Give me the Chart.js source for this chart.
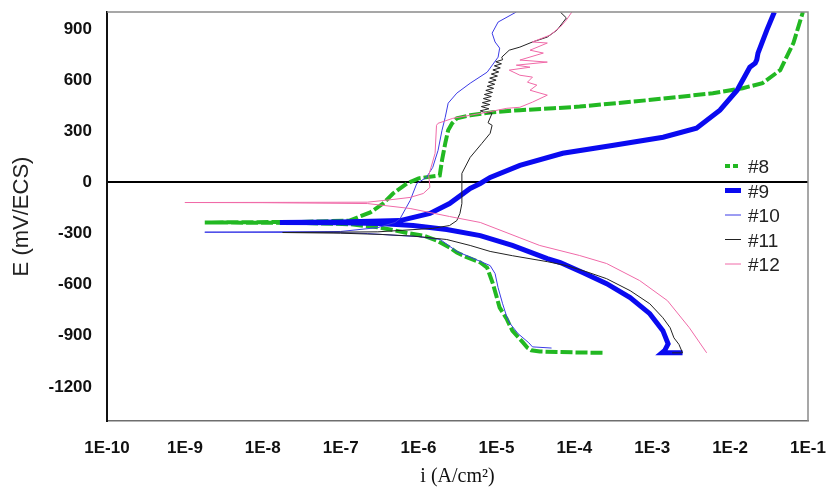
<!DOCTYPE html>
<html lang="en">
<head>
<meta charset="UTF-8">
<title>Polarization curves</title>
<script src="https://cdn.jsdelivr.net/npm/chart.js"></script>
<style>
  body { margin: 0; background: #fff; }
  #wrap { width: 829px; height: 487px; }
</style>
</head>
<body>
<div id="wrap"><canvas id="polChart" width="829" height="487"></canvas></div>
<script>
// tick values
const xTicks = [1e-10, 1e-9, 1e-8, 1e-7, 1e-6, 1e-5, 1e-4, 1e-3, 1e-2, 1e-1];
const yTicks = [-1200, -900, -600, -300, 0, 300, 600, 900];

// #8  (i in A/cm2, E in mV/ECS)
const i8 = [2.3e-4, 1.2e-4, 6e-5, 3.6e-5, 2.8e-5, 2.5e-5, 2.2e-5, 1.6e-5, 1.35e-5, 1.1e-5, 9e-6, 7.6e-6, 6.2e-6, 4e-6, 3.1e-6, 2.5e-6, 1.7e-6, 1.15e-6, 7.8e-7, 3.2e-7, 1.3e-7, 3e-8, 1.8e-9,
  3e-8, 1.3e-7, 2.4e-7, 3.5e-7, 4.7e-7, 7.1e-7, 1.0e-6, 1.87e-6, 2.0e-6, 2.2e-6, 2.4e-6, 2.7e-6, 3.1e-6, 4.6e-6, 9e-6, 2e-5, 5.4e-5, 1.17e-4, 8.5e-4, 6e-3, 0.0145, 0.026, 0.044, 0.065, 0.086];
const e8 = [-1000, -998, -995, -992, -985, -970, -940, -870, -800, -735, -594, -500, -470, -435, -412, -382, -341, -312, -300, -265, -245, -238, -235,
  -232, -224, -176, -124, -65, -6, 24, 41, 129, 229, 306, 347, 376, 394, 412, 424, 435, 445, 482, 523, 553, 582, 659, 818, 1000];

// #9
const i9 = [2.45e-3, 1.33e-3, 1.45e-3, 1.6e-3, 1.37e-3, 9.3e-4, 5.2e-4, 2.6e-4, 1.28e-4, 6.6e-5, 4.5e-5, 1.6e-5, 6.2e-6, 2.3e-6, 8.5e-7, 3.2e-7, 1e-7, 1.66e-8,
  1e-7, 5.8e-7, 1.4e-6, 2.5e-6, 4.6e-6, 6.2e-6, 8.3e-6, 2e-5, 7.1e-5, 3.2e-4, 1.38e-3, 3.7e-3, 7.4e-3, 0.0123, 0.0179, 0.021, 0.022, 0.0228, 0.0296, 0.037];
const e9 = [-1000, -1000, -985, -947, -870, -770, -676, -594, -529, -470, -447, -370, -312, -276, -253, -241, -237, -235,
  -232, -224, -182, -124, -35, -6, 29, 100, 171, 218, 265, 318, 424, 541, 676, 700, 720, 759, 894, 1000];

// #10
const i10 = [5.1e-5, 2.9e-5, 2.6e-5, 1.9e-5, 1.5e-5, 1.36e-5, 1.2e-5, 1.05e-5, 9.6e-6, 8.3e-6, 6.7e-6, 3.1e-6, 1.9e-6, 1.0e-6, 5.8e-7, 2.2e-7, 8e-8, 1.8e-9,
  1e-7, 3e-7, 5e-7, 5.8e-7, 7.8e-7, 9.5e-7, 1.26e-6, 1.52e-6, 1.78e-6, 2.0e-6, 2.2e-6, 2.4e-6, 3.1e-6, 4.6e-6, 7.6e-6, 1.05e-5, 1.1e-5, 9.6e-6, 8.8e-6, 1.05e-5, 1.8e-5];
const e10 = [-972, -965, -941, -888, -829, -790, -712, -618, -535, -488, -470, -405, -335, -318, -312, -300, -294, -292,
  -288, -265, -235, -212, -106, -6, 29, 88, 188, 306, 382, 465, 524, 582, 647, 735, 788, 824, 876, 941, 1000];

// #11
const i11 = [1.8e-3, 2.45e-3, 2.2e-3, 1.9e-3, 1.7e-3, 1.37e-3, 9.3e-4, 5.2e-4, 2.6e-4, 1.45e-4, 7.9e-5, 4.5e-5, 1.6e-5, 8.3e-6, 4.6e-6, 2.3e-6, 8.5e-7, 3.2e-7, 1e-7, 1.8e-8,
  3e-7, 1.5e-6, 2.5e-6, 3.1e-6, 3.4e-6, 3.6e-6, 3.6e-6, 4.6e-6, 6.5e-6, 8.3e-6, 8.8e-6, 7.8e-6, 8.8e-6,
  7.1e-6, 6.2e-6, 8.0e-6, 6.4e-6, 8.2e-6, 6.6e-6, 8.4e-6, 6.8e-6, 8.6e-6, 7.0e-6, 8.9e-6, 7.3e-6, 9.2e-6, 7.6e-6,
  9.5e-6, 7.9e-6, 9.9e-6, 8.2e-6, 1.03e-5, 8.6e-6, 1.07e-5, 9.0e-6, 1.12e-5, 9.4e-6, 1.16e-5, 9.8e-6, 1.2e-5, 1.17e-5,
  1.46e-5, 2e-5, 2.9e-5, 4.5e-5, 6e-5, 7.9e-5, 6.6e-5];
const e11 = [-1000, -1000, -950, -912, -853, -794, -712, -635, -565, -525, -488, -465, -430, -405, -370, -335, -315, -305, -298, -294,
  -290, -270, -253, -224, -182, -124, 53, 147, 229, 288, 335, 350, 406,
  410, 420, 432, 445, 457, 468, 480, 492, 504, 516, 528, 540, 552, 564,
  576, 588, 600, 612, 624, 636, 648, 660, 672, 684, 696, 708, 720, 735,
  776, 794, 824, 853, 894, 965, 1000];

// #12
const i12 = [5.0e-3, 3.0e-3, 1.57e-3, 6.9e-4, 2.6e-4, 1.17e-4, 3.6e-5, 2e-5, 6.2e-6, 2.5e-6, 7.8e-7, 2.2e-7, 1e-8, 1e-9,
  3e-8, 2.2e-7, 4.7e-7, 7.8e-7, 1.15e-6, 1.4e-6, 1.35e-6, 1.63e-6, 1.7e-6, 1.78e-6, 2.75e-6, 4.6e-6, 7.6e-6, 1.36e-5, 2e-5,
  2.9e-5, 4.5e-5, 2.7e-5, 3.3e-5, 2.5e-5, 2.9e-5, 2e-5, 1.46e-5, 2.7e-5, 1.8e-5, 4.5e-5, 2e-5, 4e-5, 2.7e-5, 4.5e-5, 2.9e-5, 4.9e-5, 6.6e-5, 7.9e-5, 9.3e-5];
const e12 = [-1000, -853, -694, -576, -476, -429, -370, -325, -235, -200, -153, -124, -119, -118,
  -117, -116, -100, -88, -65, -29, 41, 171, 335, 347, 376, 394, 412, 435, 441,
  471, 512, 541, 571, 588, 618, 629, 659, 676, 688, 706, 718, 759, 776, 818, 824, 865, 912, 953, 1000];

function pts(xs, ys) {
  return xs.map((x, k) => ({ x: x, y: ys[k] }));
}

// grey frame on top/right, like the original plot box
const frame = {
  id: 'frame',
  afterDatasetsDraw(chart) {
    const a = chart.chartArea, ctx = chart.ctx;
    ctx.save();
    ctx.strokeStyle = '#8a8a8a';
    ctx.lineWidth = 1.5;
    ctx.beginPath();
    ctx.moveTo(a.left, a.top);
    ctx.lineTo(a.right, a.top);
    ctx.lineTo(a.right, a.bottom);
    ctx.stroke();
    ctx.restore();
  }
};

// legend drawn inside the plot area
const insideLegend = {
  id: 'insideLegend',
  afterDraw(chart) {
    const ctx = chart.ctx;
    ctx.save();
    ctx.font = '19px "Liberation Sans", Arial, sans-serif';
    ctx.textBaseline = 'middle';
    chart.data.datasets.forEach((ds, k) => {
      const y = 166 + k * 24.5;
      ctx.strokeStyle = ds.borderColor;
      ctx.lineWidth = ds.borderWidth;
      ctx.setLineDash(ds.borderDash ? [5, 3] : []);
      ctx.beginPath();
      ctx.moveTo(725, y);
      ctx.lineTo(741, y);
      ctx.stroke();
      ctx.setLineDash([]);
      ctx.fillStyle = '#222';
      ctx.fillText(ds.label, 748, y + 2);
    });
    ctx.restore();
  }
};

new Chart(document.getElementById('polChart'), {
  type: 'scatter',
  data: {
    datasets: [
      { label: '#8', data: pts(i8, e8), borderColor: '#22b822', borderWidth: 4, borderDash: [12, 3], order: 5 },
      { label: '#9', data: pts(i9, e9), borderColor: '#0a0af0', borderWidth: 5, order: 4 },
      { label: '#10', data: pts(i10, e10), borderColor: '#3b3be6', borderWidth: 1, order: 3 },
      { label: '#11', data: pts(i11, e11), borderColor: '#222222', borderWidth: 1, order: 2 },
      { label: '#12', data: pts(i12, e12), borderColor: '#f06aa8', borderWidth: 1, order: 1 }
    ].map(d => Object.assign(d, { showLine: true, pointRadius: 0, fill: false, tension: 0 }))
  },
  options: {
    responsive: false,
    animation: false,
    devicePixelRatio: 1,
    layout: { padding: { left: 0, top: 12, right: 21, bottom: 0 } },
    plugins: { legend: { display: false }, tooltip: { enabled: false } },
    scales: {
      x: {
        type: 'logarithmic',
        min: 1e-10,
        max: 1e-1,
        afterBuildTicks: s => { s.ticks = xTicks.map(v => ({ value: v })); },
        afterFit: s => { s.height = 66; s.paddingLeft = 0; s.paddingRight = 0; },
        grid: { display: false },
        border: { display: true, color: '#6e6e6e', width: 1.5 },
        ticks: {
          autoSkip: false,
          maxRotation: 0,
          padding: 9,
          color: '#111',
          font: { family: '"Liberation Sans", Arial, sans-serif', size: 17, weight: 'bold' },
          callback: v => '1E' + Math.round(Math.log10(v))
        },
        title: {
          display: true,
          text: 'i (A/cm²)',
          color: '#111',
          padding: { top: 0, bottom: 0 },
          font: { family: '"Liberation Serif", "Times New Roman", serif', size: 20, lineHeight: 1 }
        }
      },
      y: {
        min: -1400,
        max: 1000,
        afterBuildTicks: s => { s.ticks = yTicks.map(v => ({ value: v })); },
        afterFit: s => { s.width = 107; s.paddingTop = 0; s.paddingBottom = 0; },
        grid: {
          display: true,
          drawTicks: false,
          lineWidth: 2,
          color: c => (c.tick && c.tick.value === 0 ? '#000' : 'rgba(0,0,0,0)')
        },
        border: { display: true, color: '#111', width: 2 },
        ticks: {
          padding: 15,
          color: '#111',
          font: { family: '"Liberation Sans", Arial, sans-serif', size: 17, weight: 'bold' },
          callback: v => String(v)
        },
        title: {
          display: true,
          text: 'E (mV/ECS)',
          color: '#222',
          padding: { top: 11, bottom: 0 },
          font: { family: '"Liberation Sans", Arial, sans-serif', size: 22, lineHeight: 1 }
        }
      }
    }
  },
  plugins: [frame, insideLegend]
});
</script>
</body>
</html>
